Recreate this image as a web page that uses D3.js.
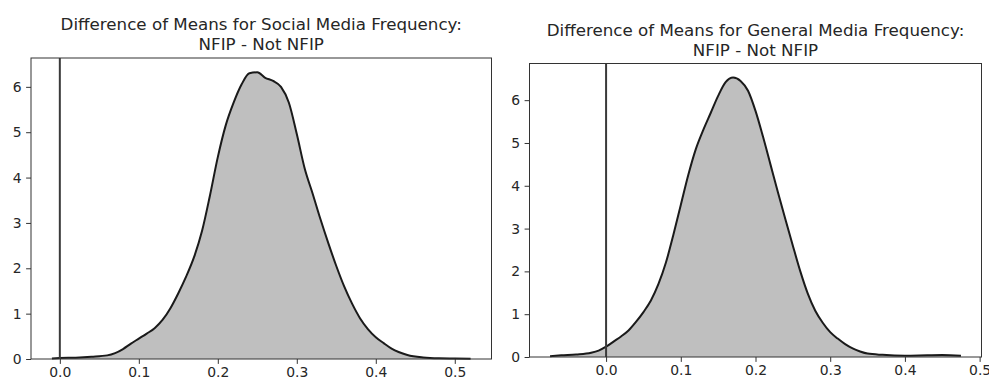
<!DOCTYPE html>
<html><head><meta charset="utf-8">
<script src="https://cdn.jsdelivr.net/npm/d3@7"></script>
<style>body{margin:0;background:#fff}svg{display:block}text{font-family:"DejaVu Sans",sans-serif}</style>
</head><body><svg id="c" width="989" height="381"></svg>
<script>
const socialX = [-0.01,0.0,0.02,0.04,0.06,0.07,0.08,0.09,0.10,0.11,0.12,0.13,0.14,0.15,0.16,0.17,0.18,0.19,0.20,0.21,0.22,0.23,0.24,0.25,0.26,0.27,0.28,0.29,0.30,0.31,0.32,0.33,0.34,0.35,0.36,0.37,0.38,0.39,0.40,0.41,0.42,0.44,0.46,0.48,0.50,0.52];
const socialD = [0.01,0.02,0.03,0.05,0.08,0.13,0.22,0.34,0.45,0.56,0.68,0.86,1.12,1.45,1.82,2.25,2.82,3.6,4.45,5.15,5.65,6.05,6.3,6.32,6.2,6.13,6.0,5.65,4.96,4.2,3.65,3.08,2.55,2.05,1.6,1.22,0.9,0.66,0.48,0.35,0.23,0.09,0.035,0.015,0.01,0.005];
const generalX = [-0.075,-0.06,-0.04,-0.02,-0.01,0.0,0.01,0.02,0.03,0.04,0.05,0.06,0.07,0.08,0.09,0.10,0.11,0.12,0.13,0.14,0.15,0.16,0.17,0.18,0.19,0.20,0.21,0.22,0.23,0.24,0.25,0.26,0.27,0.28,0.29,0.30,0.31,0.32,0.33,0.34,0.35,0.37,0.40,0.43,0.45,0.475];
const generalD = [0.02,0.04,0.06,0.1,0.15,0.24,0.36,0.48,0.62,0.82,1.05,1.32,1.7,2.2,2.85,3.55,4.25,4.85,5.3,5.7,6.1,6.42,6.53,6.45,6.22,5.75,5.15,4.5,3.85,3.22,2.6,2.0,1.48,1.08,0.8,0.58,0.43,0.3,0.2,0.13,0.08,0.05,0.03,0.04,0.045,0.03];
const xTicks = [0.0,0.1,0.2,0.3,0.4,0.5];
const yTicks = [0,1,2,3,4,5,6];
const titles = [["Difference of Means for Social Media Frequency:","NFIP - Not NFIP"],["Difference of Means for General Media Frequency:","NFIP - Not NFIP"]];

const svg = d3.select("#c");
const panels = [
  {xs:socialX, ds:socialD, box:{l:31,r:491.5,t:58,b:359}, title:titles[0], ty:[30,50]},
  {xs:generalX, ds:generalD, box:{l:529.5,r:981.5,t:63.5,b:357}, title:titles[1], ty:[36,56]}
];
panels.forEach(p=>{
  const pts = p.xs.map((x,i)=>({x, d:p.ds[i]}));
  const xmin=d3.min(p.xs), xmax=d3.max(p.xs), pad=(xmax-xmin)*0.05;
  const x = d3.scaleLinear().domain([xmin-pad, xmax+pad]).range([p.box.l,p.box.r]);
  const y = d3.scaleLinear().domain([0, d3.max(p.ds)*1.05]).range([p.box.b,p.box.t]);
  const g = svg.append("g");
  const area = d3.area().x(d=>x(d.x)).y0(y(0)).y1(d=>y(d.d)).curve(d3.curveMonotoneX);
  const line = d3.line().x(d=>x(d.x)).y(d=>y(d.d)).curve(d3.curveMonotoneX);
  g.append("path").attr("d",area(pts)).attr("fill","#bfbfbf");
  g.append("path").attr("d",line(pts)).attr("fill","none").attr("stroke","#1a1a1a").attr("stroke-width",2);
  g.append("line").attr("x1",x(0)).attr("x2",x(0)).attr("y1",p.box.t).attr("y2",p.box.b).attr("stroke","#3a3a3a").attr("stroke-width",2);
  const xa = g.append("g").attr("transform",`translate(0,${p.box.b})`).call(d3.axisBottom(x).tickValues(xTicks).tickFormat(d3.format(".1f")).tickSize(4.9).tickPadding(3.5));
  const ya = g.append("g").attr("transform",`translate(${p.box.l},0)`).call(d3.axisLeft(y).tickValues(yTicks).tickFormat(d3.format("d")).tickSize(4.9).tickPadding(4.5));
  [xa,ya].forEach(a=>{a.select(".domain").remove();a.selectAll("line").attr("stroke","#333").attr("stroke-width",1);a.selectAll("text").attr("font-size",13.9).attr("fill","#262626").attr("font-family","DejaVu Sans");});
  g.append("rect").attr("x",p.box.l).attr("y",p.box.t).attr("width",p.box.r-p.box.l).attr("height",p.box.b-p.box.t).attr("fill","none").attr("stroke","#333").attr("stroke-width",1);
  p.title.forEach((t,i)=>g.append("text").attr("x",(p.box.l+p.box.r)/2).attr("y",p.ty[i]).attr("text-anchor","middle").attr("font-size",16.7).attr("fill","#262626").text(t));
});
</script></body></html>
